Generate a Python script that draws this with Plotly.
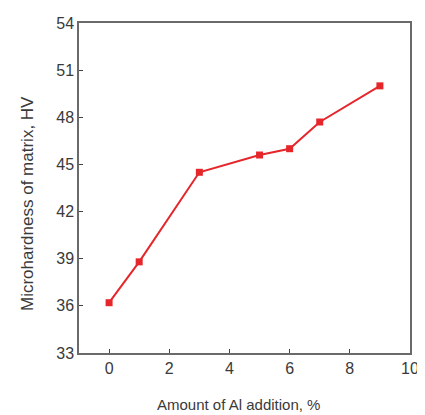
import plotly.graph_objects as go

al_amount = [0, 1, 3, 5, 6, 7, 9]
microhardness = [36.2, 38.8, 44.5, 45.6, 46.0, 47.7, 50.0]
x_ticks = [0, 2, 4, 6, 8, 10]
y_ticks = [33, 36, 39, 42, 45, 48, 51, 54]
x_title = "Amount of Al addition, %"
y_title = "Microhardness of matrix, HV"

# page body has an 8px margin, so the figure is sized to fit the window
W, H = 417, 407
L, R, T, B = 71, 15, 15, 62
pw, ph = W - L - R, H - T - B

fig = go.Figure()
fig.add_trace(go.Scatter(
    x=al_amount, y=microhardness, mode="lines+markers",
    line=dict(color="#e5262b", width=2),
    marker=dict(symbol="square", size=7, color="#e5262b"),
    showlegend=False, cliponaxis=False,
))

axis_common = dict(
    showline=True, linecolor="#6a6a6a", linewidth=1.5, mirror=True,
    showgrid=False, zeroline=False, ticks="inside", ticklen=4,
    tickcolor="#444", tickwidth=1, automargin=False,
    tickfont=dict(family="Liberation Sans, Arial", size=16, color="#3a3a3a"),
)

fig.update_layout(
    width=W, height=H,
    margin=dict(l=L, r=R, t=T, b=B),
    paper_bgcolor="white", plot_bgcolor="white",
    xaxis=dict(range=[-1, 10], tickvals=x_ticks, **axis_common),
    yaxis=dict(range=[33, 54], tickvals=y_ticks, **axis_common),
    annotations=[
        dict(text=x_title, xref="paper", yref="paper",
             x=(230 - L) / pw, y=1 - (396 - T) / ph,
             xanchor="center", yanchor="middle", showarrow=False,
             font=dict(family="Liberation Sans, Arial", size=15, color="#3a3a3a")),
        dict(text=y_title, xref="paper", yref="paper", textangle=-90,
             x=(19 - L) / pw, y=1 - (196 - T) / ph,
             xanchor="center", yanchor="middle", showarrow=False,
             font=dict(family="Liberation Sans, Arial", size=17, color="#3a3a3a")),
    ],
)

fig.write_html("out.html")
